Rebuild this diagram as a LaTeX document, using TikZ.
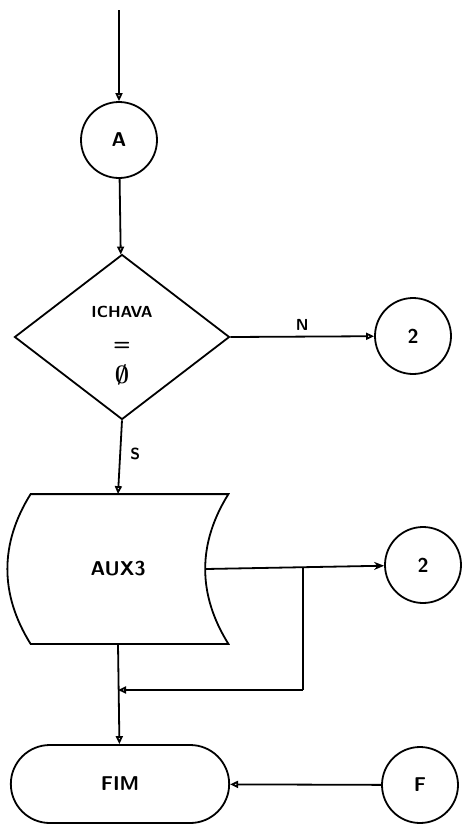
\documentclass[tikz,border=0pt]{standalone}
\usepackage{bm}
\usetikzlibrary{arrows.meta,shapes.geometric,shapes.misc}

\begin{document}
\begin{tikzpicture}[x=1pt,y=-1pt,line width=1.8pt,
        conn/.style={draw,circle,minimum size=76pt,inner sep=0pt,font=\fontsize{20}{22}\sffamily\bfseries},
        flow/.style={-{Triangle[open,length=8pt,width=7pt]}},
        lbl/.style={font=\fontsize{16}{18}\sffamily\bfseries}]
        \useasboundingbox (0,0) rectangle (465,831);
        \coordinate (start) at (119,10);
        \node[conn] (A) at (119,140) {A};
        \node[draw,diamond,minimum width=215pt,minimum height=165pt,inner sep=0pt,align=center,
            font=\fontsize{16}{33}\sffamily\bfseries] (test) at (122,337)
            {\rule{0pt}{28pt}{\fontsize{16}{16}\selectfont ICHAVA}\\{\fontsize{20}{20}\selectfont =}\\{\fontsize{24}{24}\selectfont$\bm{\emptyset}$}};
        \node[conn] (two a) at (413,336) {2};
        \node[minimum width=219pt,minimum height=148pt,font=\fontsize{20}{22}\sffamily\bfseries] (aux) at (118,569) {AUX3};
        \draw ([xshift=23pt]aux.north west) to[bend right=32] ([xshift=23pt]aux.south west) -- (aux.south east)
            to[bend left=32] (aux.north east) -- cycle;
        \coordinate (aux out) at ([xshift=-23pt]aux.east);
        \node[conn] (two b) at (423,565) {2};
        \node[draw,rounded rectangle,minimum width=225pt,minimum height=78pt,font=\fontsize{20}{22}\sffamily\bfseries] (fim) at (120,784) {FIM};
        \node[conn] (F) at (420,785) {F};
        \coordinate (split) at (303,567);
        \coordinate (join) at (303,690);
        % ligacoes
        \draw[flow] (start) -- (A);
        \draw[flow] (A) -- (test);
        \draw[flow] (test.east) -- node[lbl,above=2pt] {N} (two a);
        \draw[flow] (test.south) -- node[lbl,right=6pt,pos=0.45] {S} (aux.north);
        \draw[-{Stealth[length=10pt,width=8pt]}] (aux out) -- (two b);
        \draw (split) -- (join);
        \draw[flow] (join) -- (join -| aux.south);
        \draw[flow] (aux.south) -- (fim);
        \draw[flow] (F) -- (fim);
\end{tikzpicture}
\end{document}
